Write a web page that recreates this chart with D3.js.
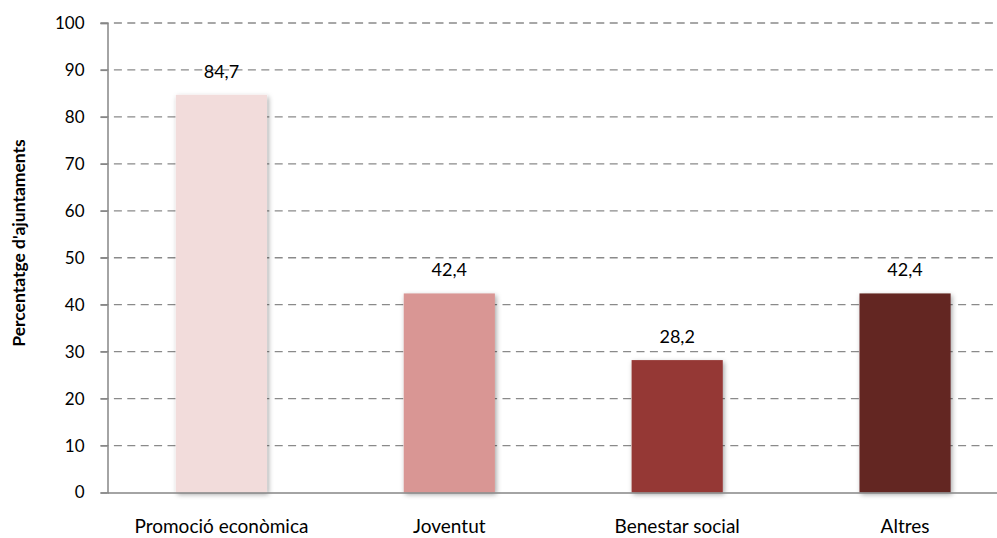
<!DOCTYPE html>
<html><head><meta charset="utf-8">
<script src="https://cdn.jsdelivr.net/npm/d3@7"></script>
<style>html,body{margin:0;padding:0;background:#fff;overflow:hidden}</style>
</head><body>
<svg id="c" width="997" height="538"></svg>
<script>
const categories = ["Promoció econòmica", "Joventut", "Benestar social", "Altres"];
const values = [84.7, 42.4, 28.2, 42.4];
const colors = ["#F2DCDB", "#D99694", "#953735", "#632523"];
const yTicks = [0, 10, 20, 30, 40, 50, 60, 70, 80, 90, 100];
const yTitle = "Percentatge d'ajuntaments";

const svg = d3.select("#c");
const font = "Lato, 'Carlito', 'Open Sans', sans-serif";
const mLeft = 107.5, mRight = 1019, mTop = 23, mBottom = 492.5;

const x = d3.scaleBand().domain(categories).range([mLeft, mRight]).paddingInner(0.6).paddingOuter(0.3);
const y = d3.scaleLinear().domain([0, 100]).range([mBottom, mTop]);

const defs = svg.append("defs");
const f = defs.append("filter").attr("id", "sh").attr("x", "-20%").attr("y", "-20%").attr("width", "140%").attr("height", "140%");
f.append("feDropShadow").attr("dx", 1.5).attr("dy", 2).attr("stdDeviation", 2.4).attr("flood-color", "#000").attr("flood-opacity", 0.35);

// gridlines
svg.append("g").selectAll("line").data(yTicks.filter(d => d > 0)).join("line")
  .attr("x1", mLeft - 7).attr("x2", mRight).attr("y1", d => y(d)).attr("y2", d => y(d))
  .attr("stroke", "#8a8a8a").attr("stroke-width", 1.3).attr("stroke-dasharray", "8,5.4");

// y axis
const ya = svg.append("g").attr("transform", `translate(${mLeft},0)`)
  .call(d3.axisLeft(y).tickValues(yTicks).tickSize(7).tickPadding(16).tickFormat(d3.format("d")));
ya.select(".domain").attr("stroke", "#868686").attr("stroke-width", 1.5);
ya.selectAll(".tick line").attr("stroke", "#868686").attr("stroke-width", 1.3);
ya.selectAll(".tick text").attr("font-family", font).attr("font-size", 17).attr("fill", "#000");

// bars
svg.append("g").selectAll("rect").data(values).join("rect")
  .attr("x", (d, i) => x(categories[i])).attr("width", x.bandwidth())
  .attr("y", d => y(d)).attr("height", d => y(0) - y(d))
  .attr("fill", (d, i) => colors[i]).attr("filter", "url(#sh)");

// x axis
const xa = svg.append("g").attr("transform", `translate(0,${mBottom})`)
  .call(d3.axisBottom(x).tickSize(0).tickPadding(29));
xa.select(".domain").attr("stroke", "#868686").attr("stroke-width", 1.5);
xa.selectAll(".tick text").attr("font-family", font).attr("font-size", 19).attr("fill", "#000")
  .attr("dy", null).attr("y", 40.5);

// value labels
svg.append("g").selectAll("text").data(values).join("text")
  .attr("x", (d, i) => x(categories[i]) + x.bandwidth() / 2)
  .attr("y", d => y(d) - 17)
  .attr("text-anchor", "middle").attr("font-family", font).attr("font-size", 18).attr("fill", "#000")
  .text(d => d3.format(".1f")(d).replace(".", ","));

// y title
svg.append("text").attr("transform", `translate(25,243) rotate(-90)`)
  .attr("text-anchor", "middle").attr("font-family", font).attr("font-size", 17.5).attr("font-weight", "bold")
  .attr("fill", "#000").text(yTitle);
</script>
</body></html>
